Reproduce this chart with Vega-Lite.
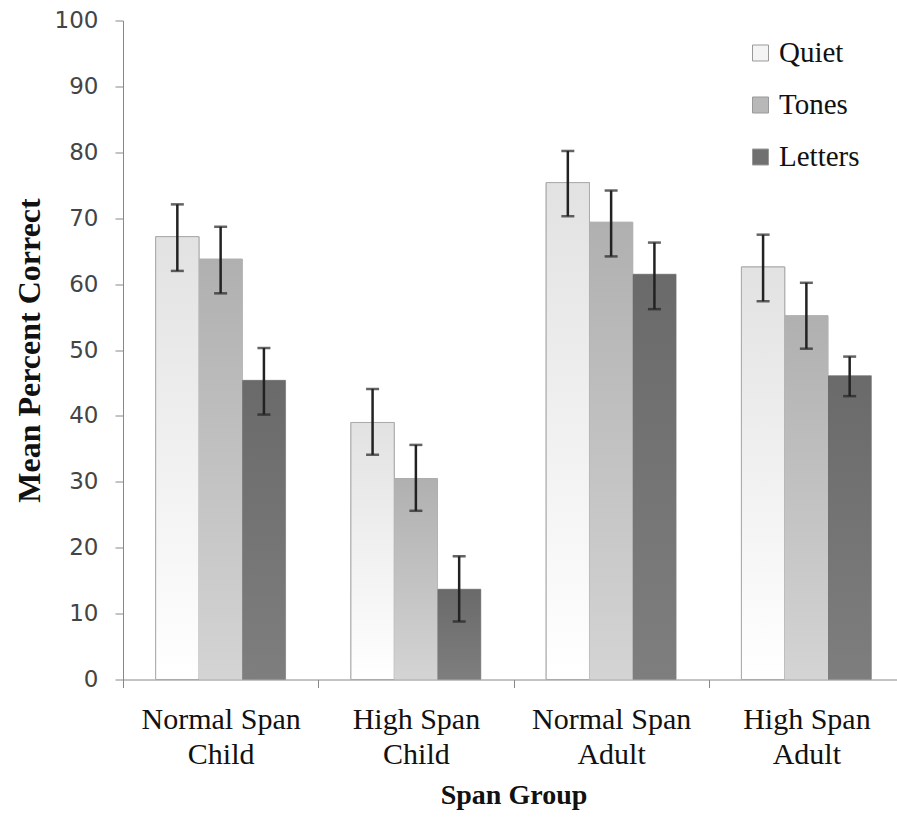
{
  "$schema": "https://vega.github.io/schema/vega-lite/v6.json",
  "width": 774,
  "height": 659,
  "autosize": {"type": "none"},
  "padding": {"left": 123, "top": 20.5, "right": 0, "bottom": 140.5},
  "background": "white",
  "config": {
    "view": {"stroke": null},
    "axis": {"grid": false}
  },
  "data": {
    "values": [
      {"group": "Normal Span Child", "condition": "Quiet", "mean": 67.2, "lo": 62.0, "hi": 72.1},
      {"group": "Normal Span Child", "condition": "Tones", "mean": 63.8, "lo": 58.6, "hi": 68.7},
      {"group": "Normal Span Child", "condition": "Letters", "mean": 45.4, "lo": 40.2, "hi": 50.3},
      {"group": "High Span Child", "condition": "Quiet", "mean": 39.0, "lo": 34.1, "hi": 44.1},
      {"group": "High Span Child", "condition": "Tones", "mean": 30.5, "lo": 25.6, "hi": 35.6},
      {"group": "High Span Child", "condition": "Letters", "mean": 13.7, "lo": 8.8, "hi": 18.7},
      {"group": "Normal Span Adult", "condition": "Quiet", "mean": 75.4, "lo": 70.3, "hi": 80.2},
      {"group": "Normal Span Adult", "condition": "Tones", "mean": 69.4, "lo": 64.2, "hi": 74.2},
      {"group": "Normal Span Adult", "condition": "Letters", "mean": 61.5, "lo": 56.2, "hi": 66.3},
      {"group": "High Span Adult", "condition": "Quiet", "mean": 62.6, "lo": 57.4, "hi": 67.5},
      {"group": "High Span Adult", "condition": "Tones", "mean": 55.2, "lo": 50.2, "hi": 60.2},
      {"group": "High Span Adult", "condition": "Letters", "mean": 46.1, "lo": 43.0, "hi": 49.0}
    ]
  },
  "encoding": {
    "x": {
      "field": "group",
      "type": "nominal",
      "sort": ["Normal Span Child", "High Span Child", "Normal Span Adult", "High Span Adult"],
      "scale": {"range": [0, 781], "paddingInner": 0, "paddingOuter": 0},
      "axis": {
        "title": "Span Group",
        "titleFont": "Liberation Serif",
        "titleFontSize": 28,
        "titleFontWeight": "bold",
        "titleColor": "#111111",
        "titlePadding": 12,
        "labelAngle": 0,
        "labelFont": "Liberation Serif",
        "labelFontSize": 30,
        "labelLineHeight": 35,
        "labelColor": "#111111",
        "labelPadding": 17,
        "labelExpr": "[slice(datum.label, 0, lastindexof(datum.label, ' ')), slice(datum.label, lastindexof(datum.label, ' ') + 1)]",
        "tickBand": "extent",
        "tickSize": 8,
        "tickColor": "#888888",
        "domainColor": "#888888"
      }
    },
    "xOffset": {
      "field": "condition",
      "type": "nominal",
      "sort": ["Quiet", "Tones", "Letters"],
      "scale": {"paddingInner": 0, "paddingOuter": 0.755}
    }
  },
  "layer": [
    {
      "mark": {"type": "bar", "stroke": "#aaaaaa", "strokeWidth": 1},
      "encoding": {
        "y": {
          "field": "mean",
          "type": "quantitative",
          "scale": {"domain": [0, 100]},
          "axis": {
            "values": [0, 10, 20, 30, 40, 50, 60, 70, 80, 90, 100],
            "title": "Mean Percent Correct",
            "titleFont": "Liberation Serif",
            "titleFontSize": 32,
            "titleFontWeight": "bold",
            "titleColor": "#111111",
            "titlePadding": 8,
            "labelFont": "DejaVu Sans",
            "labelFontSize": 23,
            "labelColor": "#444444",
            "labelPadding": 17,
            "tickSize": 8,
            "tickColor": "#888888",
            "domainColor": "#888888"
          }
        },
        "color": {
          "field": "condition",
          "type": "nominal",
          "sort": ["Quiet", "Tones", "Letters"],
          "scale": {"domain": ["Quiet", "Tones", "Letters"], "range": ["#f4f4f4", "#b8b8b8", "#707070"]},
          "legend": {
            "title": null,
            "orient": "none",
            "legendX": 623,
            "legendY": 18,
            "symbolType": "square",
            "symbolSize": 256,
            "symbolStrokeColor": "#999999",
            "symbolStrokeWidth": 1,
            "labelFont": "Liberation Serif",
            "labelFontSize": 29,
            "labelColor": "#111111",
            "labelOffset": 4,
            "rowPadding": 22
          }
        }
      }
    },
    {
      "transform": [{"filter": "datum.condition == 'Quiet'"}],
      "mark": {
        "type": "bar",
        "stroke": "#aaaaaa",
        "strokeWidth": 1,
        "color": {"gradient": "linear", "x1": 0, "y1": 0, "x2": 0, "y2": 1, "stops": [{"offset": 0, "color": "#e2e2e2"}, {"offset": 1, "color": "#ffffff"}]}
      },
      "encoding": {"y": {"field": "mean", "type": "quantitative"}}
    },
    {
      "transform": [{"filter": "datum.condition == 'Tones'"}],
      "mark": {
        "type": "bar",
        "color": {"gradient": "linear", "x1": 0, "y1": 0, "x2": 0, "y2": 1, "stops": [{"offset": 0, "color": "#b0b0b0"}, {"offset": 1, "color": "#d4d4d4"}]}
      },
      "encoding": {"y": {"field": "mean", "type": "quantitative"}}
    },
    {
      "transform": [{"filter": "datum.condition == 'Letters'"}],
      "mark": {
        "type": "bar",
        "color": {"gradient": "linear", "x1": 0, "y1": 0, "x2": 0, "y2": 1, "stops": [{"offset": 0, "color": "#6a6a6a"}, {"offset": 1, "color": "#7e7e7e"}]}
      },
      "encoding": {"y": {"field": "mean", "type": "quantitative"}}
    },
    {
      "mark": {"type": "rule", "color": "#222222", "strokeWidth": 2.5},
      "encoding": {
        "y": {"field": "lo", "type": "quantitative"},
        "y2": {"field": "hi"}
      }
    },
    {
      "mark": {"type": "tick", "color": "#222222", "thickness": 2.5, "size": 13, "orient": "horizontal"},
      "encoding": {"y": {"field": "lo", "type": "quantitative"}}
    },
    {
      "mark": {"type": "tick", "color": "#222222", "thickness": 2.5, "size": 13, "orient": "horizontal"},
      "encoding": {"y": {"field": "hi", "type": "quantitative"}}
    }
  ]
}
